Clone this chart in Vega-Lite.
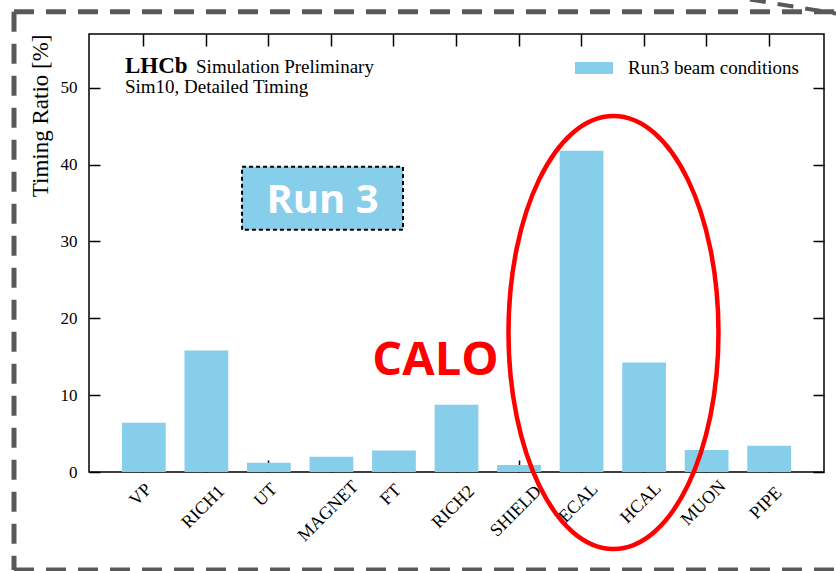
{
  "$schema": "https://vega.github.io/schema/vega-lite/v6.json",
  "width": 735,
  "height": 438,
  "autosize": {"type": "none"},
  "padding": {"left": 89, "top": 34, "right": 12, "bottom": 99},
  "background": "#ffffff",
  "config": {
    "view": {"stroke": "#000000", "strokeWidth": 1.5},
    "axis": {"domain": false, "grid": false, "tickColor": "#000000", "tickWidth": 1.5, "labelColor": "#000000", "labelFont": "Liberation Serif", "titleFont": "Liberation Serif", "titleColor": "#000000"},
    "legend": {"labelFont": "Liberation Serif", "labelColor": "#000000"}
  },
  "data": {
    "values": [
      {"part": "VP", "ratio": 6.4},
      {"part": "RICH1", "ratio": 15.8},
      {"part": "UT", "ratio": 1.2},
      {"part": "MAGNET", "ratio": 2.0},
      {"part": "FT", "ratio": 2.8},
      {"part": "RICH2", "ratio": 8.75},
      {"part": "SHIELD", "ratio": 0.9},
      {"part": "ECAL", "ratio": 41.8},
      {"part": "HCAL", "ratio": 14.25},
      {"part": "MUON", "ratio": 2.85},
      {"part": "PIPE", "ratio": 3.4}
    ]
  },
  "layer": [
    {
      "data": {"values": [{}]},
      "mark": {"type": "rule", "stroke": "#595959", "strokeWidth": 5, "strokeDash": [20, 12], "strokeCap": "butt"},
      "encoding": {
        "x": {"datum": -2.077, "type": "quantitative", "scale": {"domain": [-0.879, 10.863], "nice": false, "zero": false}, "axis": null},
        "y": {"datum": 59.9, "type": "quantitative", "scale": {"domain": [0, 57], "nice": false}, "axis": null},
        "y2": {"datum": -12.76}
      }
    },
    {
      "data": {"values": [{}]},
      "mark": {"type": "rule", "stroke": "#595959", "strokeWidth": 5, "strokeDash": [20, 12], "strokeCap": "butt"},
      "encoding": {
        "x": {"datum": -2.077, "type": "quantitative", "scale": {"domain": [-0.879, 10.863], "nice": false, "zero": false}, "axis": null},
        "x2": {"datum": 11.2},
        "y": {"datum": 59.9, "type": "quantitative", "scale": {"domain": [0, 57], "nice": false}, "axis": null}
      }
    },
    {
      "data": {"values": [{}]},
      "mark": {"type": "rule", "stroke": "#595959", "strokeWidth": 5, "strokeDash": [20, 12], "strokeCap": "butt"},
      "encoding": {
        "x": {"datum": -2.077, "type": "quantitative", "scale": {"domain": [-0.879, 10.863], "nice": false, "zero": false}, "axis": null},
        "x2": {"datum": 11.2},
        "y": {"datum": -12.76, "type": "quantitative", "scale": {"domain": [0, 57], "nice": false}, "axis": null}
      }
    },
    {
      "data": {"values": [{}]},
      "mark": {"type": "rule", "stroke": "#595959", "strokeWidth": 4, "strokeDash": [16, 12], "strokeCap": "butt"},
      "encoding": {
        "x": {"datum": 9.68, "type": "quantitative", "scale": {"domain": [-0.879, 10.863], "nice": false, "zero": false}, "axis": null},
        "x2": {"datum": 11.1},
        "y": {"datum": 61.5, "type": "quantitative", "scale": {"domain": [0, 57], "nice": false}, "axis": null},
        "y2": {"datum": 59.6}
      }
    },
    {
      "mark": {"type": "bar"},
      "encoding": {
        "x": {"field": "part", "type": "nominal", "sort": null,
          "scale": {"paddingInner": 0.3, "paddingOuter": 0.527},
          "axis": {"orient": "bottom", "title": null, "labelAngle": -45, "labelAlign": "center", "labelBaseline": "middle", "labelFontSize": 18, "tickSize": -12, "labelOffset": -3,
            "labelPadding": {"expr": "26.5 + 4.07*length(datum.label)"}}},
        "y": {"field": "ratio", "type": "quantitative", "scale": {"domain": [0, 57], "nice": false},
          "axis": {"orient": "left", "title": "Timing Ratio [%]", "values": [0, 10, 20, 30, 40, 50], "labelFontSize": 17, "tickSize": -11, "labelPadding": 23, "titleFontSize": 23, "titleFontWeight": "normal", "titleAnchor": "end", "titlePadding": 8}},
        "color": {"datum": "Run3 beam conditions", "type": "nominal",
          "scale": {"range": ["#87CEEB"]},
          "legend": {"title": null, "orient": "none", "legendX": 486, "legendY": 15, "padding": 0, "labelFontSize": 19, "labelOffset": 15, "labelLimit": 400, "symbolType": "M -1 -0.316 H 1 V 0.316 H -1 Z", "symbolSize": 1444, "symbolStrokeWidth": 0, "symbolOpacity": 1}}
      }
    },
    {
      "mark": {"type": "bar", "opacity": 0},
      "encoding": {
        "x": {"field": "part", "type": "nominal", "sort": null,
          "scale": {"paddingInner": 0.3, "paddingOuter": 0.527},
          "axis": {"orient": "top", "title": null, "labels": false, "tickSize": -12}},
        "y": {"field": "ratio", "type": "quantitative", "scale": {"domain": [0, 57], "nice": false},
          "axis": {"orient": "right", "title": null, "labels": false, "values": [0, 10, 20, 30, 40, 50], "tickSize": -11}}
      }
    },
    {
      "data": {"values": [{}]},
      "mark": {"type": "rect", "fill": "#87CEEB", "stroke": "#000000", "strokeWidth": 2, "strokeDash": [4, 3]},
      "encoding": {
        "x": {"datum": 1.566, "type": "quantitative", "scale": {"domain": [-0.879, 10.863], "nice": false, "zero": false}, "axis": null},
        "x2": {"datum": 4.137},
        "y": {"datum": 39.71, "type": "quantitative", "scale": {"domain": [0, 57], "nice": false}, "axis": null},
        "y2": {"datum": 31.51}
      }
    },
    {
      "data": {"values": [{}]},
      "mark": {"type": "text", "text": "Run 3", "font": "Open Sans", "fontWeight": "bold", "fontSize": 40, "fill": "#ffffff", "align": "center", "baseline": "alphabetic"},
      "encoding": {
        "x": {"datum": 2.852, "type": "quantitative", "scale": {"domain": [-0.879, 10.863], "nice": false, "zero": false}, "axis": null},
        "y": {"datum": 33.72, "type": "quantitative", "scale": {"domain": [0, 57], "nice": false}, "axis": null}
      }
    },
    {
      "data": {"values": [{}]},
      "mark": {"type": "text", "text": "CALO", "font": "Open Sans", "fontWeight": "bold", "fontSize": 47, "fill": "#ff0000", "align": "center", "baseline": "alphabetic"},
      "encoding": {
        "x": {"datum": 4.657, "type": "quantitative", "scale": {"domain": [-0.879, 10.863], "nice": false, "zero": false}, "axis": null},
        "y": {"datum": 12.63, "type": "quantitative", "scale": {"domain": [0, 57], "nice": false}, "axis": null}
      }
    },
    {
      "data": {"values": [{}]},
      "mark": {"type": "text", "text": "LHCb", "font": "Liberation Serif", "fontWeight": "bold", "fontSize": 23, "fill": "#000000", "align": "left", "baseline": "alphabetic"},
      "encoding": {
        "x": {"datum": -0.304, "type": "quantitative", "scale": {"domain": [-0.879, 10.863], "nice": false, "zero": false}, "axis": null},
        "y": {"datum": 51.95, "type": "quantitative", "scale": {"domain": [0, 57], "nice": false}, "axis": null}
      }
    },
    {
      "data": {"values": [{}]},
      "mark": {"type": "text", "text": "Simulation Preliminary", "font": "Liberation Serif", "fontWeight": "normal", "fontSize": 19, "fill": "#000000", "align": "left", "baseline": "alphabetic"},
      "encoding": {
        "x": {"datum": 0.831, "type": "quantitative", "scale": {"domain": [-0.879, 10.863], "nice": false, "zero": false}, "axis": null},
        "y": {"datum": 51.95, "type": "quantitative", "scale": {"domain": [0, 57], "nice": false}, "axis": null}
      }
    },
    {
      "data": {"values": [{}]},
      "mark": {"type": "text", "text": "Sim10, Detailed Timing", "font": "Liberation Serif", "fontWeight": "normal", "fontSize": 19, "fill": "#000000", "align": "left", "baseline": "alphabetic"},
      "encoding": {
        "x": {"datum": -0.304, "type": "quantitative", "scale": {"domain": [-0.879, 10.863], "nice": false, "zero": false}, "axis": null},
        "y": {"datum": 49.35, "type": "quantitative", "scale": {"domain": [0, 57], "nice": false}, "axis": null}
      }
    },
    {
      "data": {"values": [{}]},
      "mark": {"type": "point", "shape": "M -0.485 0 A 0.485 1 0 1 0 0.485 0 A 0.485 1 0 1 0 -0.485 0 Z", "size": 187489, "filled": false, "stroke": "#ff0000", "strokeWidth": 4.5, "opacity": 1},
      "encoding": {
        "x": {"datum": 7.5, "type": "quantitative", "scale": {"domain": [-0.879, 10.863], "nice": false, "zero": false}, "axis": null},
        "y": {"datum": 18.16, "type": "quantitative", "scale": {"domain": [0, 57], "nice": false}, "axis": null}
      }
    }
  ],
  "resolve": {"scale": {"x": "independent"}, "axis": {"x": "independent", "y": "independent"}}
}
